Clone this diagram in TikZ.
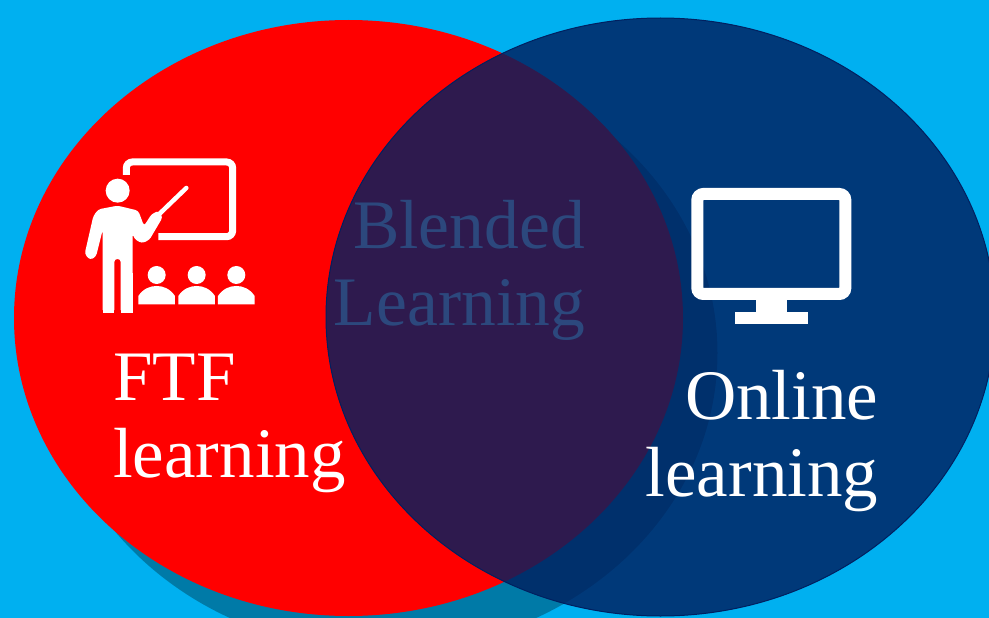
\documentclass[tikz,border=0pt]{standalone}
\usepackage{fontspec}
\setmainfont{Liberation Serif}
\definecolor{sky}{RGB}{0, 176, 240}
\definecolor{ftfred}{RGB}{255, 0, 0}
\definecolor{navy}{RGB}{0, 32, 96}
\definecolor{blendtext}{RGB}{44, 72, 125}
\tikzset{
    bigtext/.style={inner sep=0pt, font=\fontsize{71}{77}\selectfont},
    icon/.style={fill=white, draw=none}
}

\begin{document}
\begin{tikzpicture}[x=1pt, y=-1pt]
            \useasboundingbox (0,0) rectangle (989,618);
            \clip (0,0) rectangle (989,618);

            % Background
            \fill[sky] (0,0) rectangle (989,618);

            % Circles
            \fill[black, opacity=0.3] (383,353) ellipse [x radius=334.5, y radius=298];
            \fill[ftfred] (348.5,318) ellipse [x radius=334.5, y radius=298];
            \draw[navy, fill=navy, fill opacity=0.82, line width=1pt] (660.5,317) ellipse [x radius=334.5, y radius=299];

            % Labels
            \node[bigtext, white, align=left, anchor=south west] (ftf) at (113,493) {FTF\\learning};
            \node[bigtext, white, align=right, anchor=south east] (online) at (878.5,512) {Online\\learning};
            \node[bigtext, blendtext, align=right, anchor=south east, font=\fontsize{69.5}{77}\selectfont] (blended) at (585,341) {Blended\\Learning};

            % Teacher icon
            \begin{scope}[shift={(70,140)}, x=0.3333pt, y=-0.3333pt]
                \draw[white, line width=7pt, rounded corners=6pt] (169,105) -- (169,66) -- (488,66) -- (488,290) -- (265,290);
                \fill[icon] (143,152) circle [radius=36];
                \draw[white, line width=4.5pt, line cap=round] (270,220) -- (349,144);
                \fill[icon, rounded corners=3pt] (143,197) -- (205,212) -- (222,258) -- (245,222) -- (268,212) -- (278,232) -- (238,300) -- (215,310) -- (192,296) -- (188,280) -- (188,518) -- (152,518) -- (152,357) -- (133,357) -- (133,518) -- (98,518) -- (98,270) -- (78,350) -- (60,360) -- (44,342) -- (70,228) -- (85,208) -- cycle;
                \fill[icon] (98,400) rectangle (133,518);
                \fill[icon] (152,400) rectangle (188,518);
                \foreach \cx in {260,380,499} {
                    \fill[icon] (\cx,405) circle [radius=27];
                    \fill[icon] (\cx-55,493) -- (\cx-55,468) .. controls (\cx-40,446) and (\cx-20,438) .. (\cx,438) .. controls (\cx+20,438) and (\cx+40,446) .. (\cx+55,468) -- (\cx+55,493) -- cycle;
                }
            \end{scope}

            % Monitor icon
            \begin{scope}[shift={(670,170)}, x=0.3333pt, y=-0.3333pt]
                \draw[white, line width=12pt, rounded corners=6pt] (82,72) rectangle (526,372);
                \fill[icon] (257,385) rectangle (352,430);
                \fill[icon] (196,427) rectangle (413,463);
            \end{scope}
        \end{tikzpicture}
\end{document}
